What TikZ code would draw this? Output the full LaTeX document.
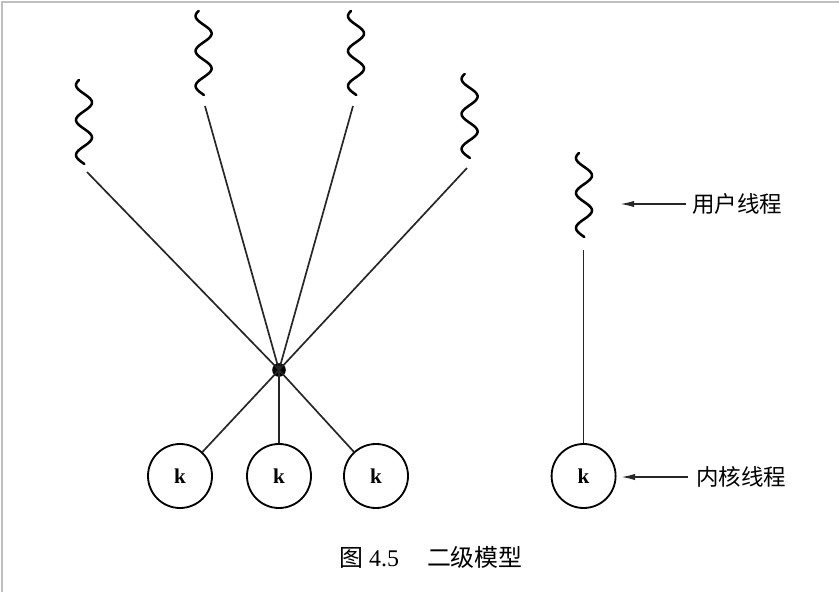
\documentclass[tikz,border=0pt]{standalone}
\usepackage{fontspec}
\setmainfont{Liberation Serif}
\newfontfamily\cjk{Noto Sans CJK SC}
\usepackage{tikz}
\usetikzlibrary{arrows.meta}

\tikzset{
  wave/.style={line width=1.8pt,line cap=round},
  link/.style={line width=1.2pt,black!85},
  kthread/.style={draw,circle,line width=1.3pt,minimum size=1.6cm,inner sep=0pt,font=\bfseries\fontsize{15}{17}\selectfont},
  label/.style={anchor=west,inner sep=0pt,font=\cjk\fontsize{16}{18}\selectfont},
}

\begin{document}
\begin{tikzpicture}[x=1cm,y=1cm,>={Latex[length=10pt,width=4.5pt]}]
  \useasboundingbox (0,0) rectangle (20.975,14.8);
  \draw[black!25,line width=1.4pt] (0.05,0) -- (0.05,14.75) -- (20.975,14.75);

  % user threads
  \foreach \cx/\ytop in {2.1/12.8,5.09/14.525,8.9/14.525,11.74/12.95,14.6/10.975} {
    \draw[wave] plot[variable=\t,domain=0:2.1,samples=70,smooth]
      ({\cx+0.2*sin(360*(\t-0.125)/0.875-90)},{\ytop-\t});
  }
  \coordinate (u1) at (2.175,10.5);
  \coordinate (u2) at (5.125,12.15);
  \coordinate (u3) at (8.825,12.15);
  \coordinate (u4) at (11.675,10.6);
  \coordinate (u5) at (14.59,8.55);

  % kernel threads
  \node[circle,fill,inner sep=0pt,minimum size=0.34cm] (hub) at (6.975,5.55) {};
  \node[kthread] (k1) at (4.5,2.9) {k};
  \node[kthread] (k2) at (6.975,2.9) {k};
  \node[kthread] (k3) at (9.4,2.9) {k};
  \node[kthread] (k4) at (14.59,2.9) {k};

  \foreach \u in {u1,u2,u3,u4} {
    \draw[link] (\u) -- (hub.center);
  }
  \foreach \k in {k1,k2,k3} {
    \draw[link] (hub.center) -- (\k);
  }
  \draw[link] (u5) -- (k4);

  % labels
  \node[label] (ut) at (17.3,9.7) {用户线程};
  \node[label] (kt) at (17.4,2.875) {内核线程};
  \coordinate (ua) at (15.5,9.7);
  \coordinate (ka) at (15.525,2.875);
  \draw[link,->] ([xshift=-4pt]ut.west) -- (ua);
  \draw[link,->] ([xshift=-6pt]kt.west) -- (ka);

  \node[font=\fontsize{17}{19}\selectfont] (cap) at (10.775,0.875)
    {{\cjk 图}~4.5\hspace{0.7cm}{\cjk 二级模型}};
\end{tikzpicture}
\end{document}
